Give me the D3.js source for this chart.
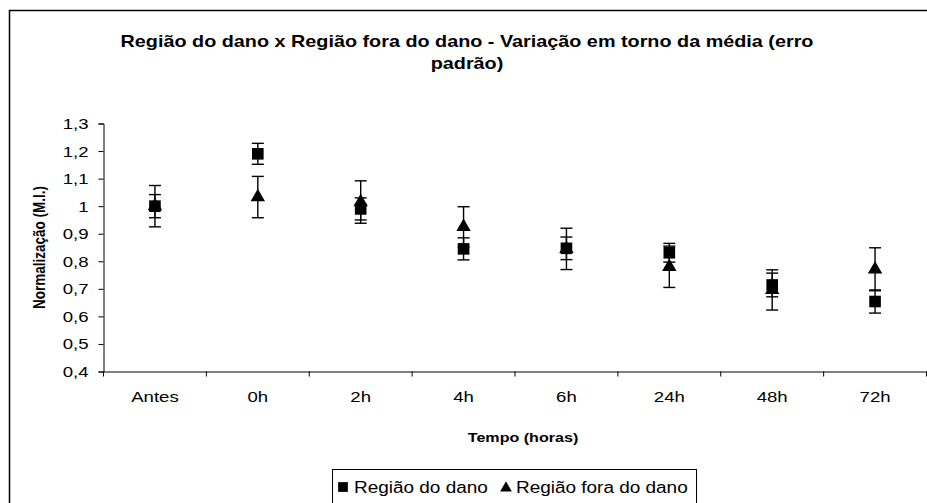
<!DOCTYPE html>
<html>
<head>
<meta charset="utf-8">
<script src="https://cdn.jsdelivr.net/npm/d3@7"></script>
<style>
  html, body { margin: 0; padding: 0; background: #fff; }
  svg { display: block; font-family: "Liberation Sans", Arial, sans-serif; }
</style>
</head>
<body>
<svg id="chart" width="927" height="503"></svg>
<script>
// Categories along the time axis
const categories = ["Antes", "0h", "2h", "4h", "6h", "24h", "48h", "72h"];

// Mean normalized values and standard errors per series
const danoMean   = [1.000, 1.190, 0.990, 0.845, 0.847, 0.831, 0.714, 0.654];
const danoErr    = [0.075, 0.038, 0.040, 0.040, 0.041, 0.034, 0.043, 0.042];
const foraMean   = [1.000, 1.033, 1.015, 0.925, 0.845, 0.780, 0.696, 0.771];
const foraErr    = [0.042, 0.075, 0.077, 0.073, 0.075, 0.075, 0.073, 0.078];

const seriesNames = ["Região do dano", "Região fora do dano"];

// Y axis ticks and their printed labels
const yTicks      = [0.4, 0.5, 0.6, 0.7, 0.8, 0.9, 1.0, 1.1, 1.2, 1.3];
const yTickLabels = ["0,4", "0,5", "0,6", "0,7", "0,8", "0,9", "1", "1,1", "1,2", "1,3"];

const titleLines = ["Região do dano x Região fora do dano - Variação em torno da média (erro", "padrão)"];
const xTitle = "Tempo (horas)";
const yTitle = "Normalização (M.I.)";

// Text in this chart is drawn slightly wide
const SX = 1.2;

const svg = d3.select("#chart");

// Outer chart frame
svg.append("rect")
  .attr("x", 9.5).attr("y", 10.5)
  .attr("width", 940).attr("height", 520)
  .attr("fill", "#fff").attr("stroke", "#000").attr("stroke-width", 1.5);

const plot = { left: 103.5, right: 926.5, top: 123.5, bottom: 371.5 };

const x = d3.scaleBand().domain(categories).range([plot.left, plot.right]);
const y = d3.scaleLinear().domain([0.4, 1.3]).range([plot.bottom, plot.top]);

// Helper: wide text anchored at (tx, ty)
function wideText(parent, tx, ty, str, size, weight, anchor) {
  return parent.append("g")
    .attr("transform", `translate(${tx},${ty}) scale(${SX},1)`)
    .append("text")
    .attr("text-anchor", anchor || "start")
    .style("font-size", size + "px")
    .style("font-weight", weight || "normal")
    .attr("fill", "#000")
    .text(str);
}

// Y axis
const yAxis = d3.axisLeft(y)
  .tickValues(yTicks)
  .tickSize(5)
  .tickPadding(9)
  .tickFormat((d, i) => yTickLabels[i]);
const gy = svg.append("g").attr("transform", `translate(${plot.left},0)`).call(yAxis);
gy.select(".domain").attr("stroke", "#000").attr("stroke-width", 1);
gy.selectAll(".tick line").attr("stroke", "#000");
gy.selectAll(".tick text")
  .attr("fill", "#000").style("font-size", "15.5px")
  .attr("x", -15 / SX)
  .attr("transform", `scale(${SX},1)`);

// X axis with ticks at category boundaries
const xAxis = d3.axisBottom(x).tickSize(0).tickPadding(19);
const gx = svg.append("g").attr("transform", `translate(0,${plot.bottom})`).call(xAxis);
gx.select(".domain").attr("stroke", "#000").attr("stroke-width", 1);
gx.selectAll(".tick text")
  .attr("fill", "#000").style("font-size", "15.5px")
  .attr("transform", `scale(${SX},1)`);
const edges = categories.map(c => x(c)).concat([x.range()[1]]);
gx.selectAll(".edge").data(edges).enter().append("line")
  .attr("class", "edge")
  .attr("x1", d => d).attr("x2", d => d)
  .attr("y1", 0).attr("y2", 5)
  .attr("stroke", "#000");

// Title
titleLines.forEach((line, i) => wideText(svg, 467, 47 + i * 22, line, 16.5, "bold", "middle"));

// Axis titles
wideText(svg, (plot.left + plot.right) / 2 + 8, 442, xTitle, 13.4, "bold", "middle");
svg.append("g")
  .attr("transform", `translate(45,${(plot.top + plot.bottom) / 2}) rotate(-90) scale(1,${SX})`)
  .append("text")
  .attr("text-anchor", "middle")
  .style("font-weight", "bold").style("font-size", "13.5px")
  .text(yTitle);

// Error bars and markers
const cx = c => x(c) + x.bandwidth() / 2;
const capW = 6;

function errorBars(means, errs, cls) {
  const g = svg.append("g").attr("class", cls);
  const rows = categories.map((c, i) => ({ c, m: means[i], e: errs[i] }));
  g.selectAll("line.stem").data(rows).enter().append("line")
    .attr("class", "stem")
    .attr("x1", d => cx(d.c)).attr("x2", d => cx(d.c))
    .attr("y1", d => y(d.m + d.e)).attr("y2", d => y(d.m - d.e))
    .attr("stroke", "#000").attr("stroke-width", 1.4);
  [["capHi", 1], ["capLo", -1]].forEach(([name, s]) => {
    g.selectAll(`line.${name}`).data(rows).enter().append("line")
      .attr("class", name)
      .attr("x1", d => cx(d.c) - capW).attr("x2", d => cx(d.c) + capW)
      .attr("y1", d => y(d.m + s * d.e))
      .attr("y2", d => y(d.m + s * d.e))
      .attr("stroke", "#000").attr("stroke-width", 1.4);
  });
  return { g, rows };
}

const danoBars = errorBars(danoMean, danoErr, "dano");
const foraBars = errorBars(foraMean, foraErr, "fora");

const squareSym = d3.symbol().type(d3.symbolSquare).size(135);
const triSym = d3.symbol().type(d3.symbolTriangle).size(90);

danoBars.g.selectAll("path.mark").data(danoBars.rows).enter().append("path")
  .attr("class", "mark")
  .attr("d", squareSym)
  .attr("transform", d => `translate(${cx(d.c)},${y(d.m)})`)
  .attr("fill", "#000");
foraBars.g.selectAll("path.mark").data(foraBars.rows).enter().append("path")
  .attr("class", "mark")
  .attr("d", triSym)
  .attr("transform", d => `translate(${cx(d.c)},${y(d.m)})`)
  .attr("fill", "#000");

// Legend
const leg = svg.append("g");
leg.append("rect")
  .attr("x", 332.5).attr("y", 469.5).attr("width", 364).attr("height", 40)
  .attr("fill", "#fff").attr("stroke", "#000").attr("stroke-width", 1);
leg.append("path").attr("d", d3.symbol().type(d3.symbolSquare).size(95))
  .attr("transform", "translate(343,487)").attr("fill", "#000");
wideText(leg, 354, 493, seriesNames[0], 15.8);
leg.append("path").attr("d", d3.symbol().type(d3.symbolTriangle).size(60))
  .attr("transform", "translate(506,488)").attr("fill", "#000");
wideText(leg, 516, 493, seriesNames[1], 15.8);
</script>
</body>
</html>
